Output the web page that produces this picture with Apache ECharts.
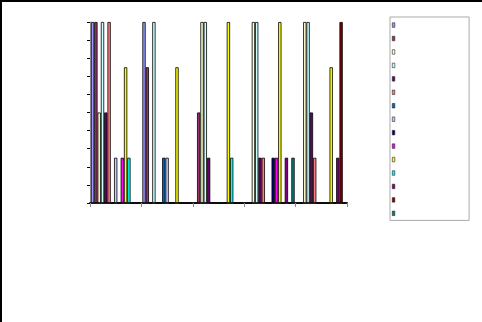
<!DOCTYPE html>
<html>
<head>
<meta charset="utf-8">
<style>html,body{margin:0;padding:0;background:#fff}#c{width:482px;height:322px}</style>
<script src="https://cdn.jsdelivr.net/npm/echarts@6/dist/echarts.min.js"></script>
</head>
<body>
<div id="c"></div>
<script>
var categories = ['1', '2', '3', '4', '5'];
var seriesNames = ['S1','S2','S3','S4','S5','S6','S7','S8','S9','S10','S11','S12','S13','S14','S15'];
var seriesColors = ['#9999FF','#993366','#FFFFCC','#CCFFFF','#660066','#FF8080','#0066CC','#CCCCFF','#000080','#FF00FF','#FFFF00','#00FFFF','#800080','#800000','#008080'];
var s1  = [10, 10, 0, 0, 0];
var s2  = [10, 7.5, 5, 0, 0];
var s3  = [5, 0, 10, 10, 10];
var s4  = [10, 10, 10, 10, 10];
var s5  = [5, 0, 2.5, 2.5, 5];
var s6  = [10, 0, 0, 2.5, 2.5];
var s7  = [0, 2.5, 0, 0, 0];
var s8  = [2.5, 2.5, 0, 0, 0];
var s9  = [0, 0, 0, 2.5, 0];
var s10 = [2.5, 0, 0, 2.5, 0];
var s11 = [7.5, 7.5, 10, 10, 7.5];
var s12 = [2.5, 0, 2.5, 0, 0];
var s13 = [0, 0, 0, 2.5, 2.5];
var s14 = [0, 0, 0, 0, 10];
var s15 = [0, 0, 0, 2.5, 0];
var allValues = [s1,s2,s3,s4,s5,s6,s7,s8,s9,s10,s11,s12,s13,s14,s15];

var series = allValues.map(function (vals, i) {
  return {
    name: seriesNames[i],
    type: 'bar',
    data: vals,
    barWidth: 3.3,
    barGap: '0%',
    itemStyle: { color: seriesColors[i], borderColor: '#000', borderWidth: 0.8 }
  };
});

var chart = echarts.init(document.getElementById('c'), null, { renderer: 'canvas' });
chart.setOption({
  animation: false,
  backgroundColor: '#fff',
  color: seriesColors,
  grid: { left: 90, right: 135, top: 22, bottom: 119, containLabel: false },
  legend: {
    orient: 'vertical',
    left: 390, top: 17,
    padding: [5.5, 74, 4.5, 2],
    itemWidth: 2.5, itemHeight: 4.5, itemGap: 8.35,
    icon: 'rect',
    formatter: function () { return ''; },
    textStyle: { fontSize: 1, padding: 0 },
    itemStyle: { borderColor: '#222', borderWidth: 0.6 },
    borderColor: '#aaa', borderWidth: 1,
    selectedMode: false,
    data: seriesNames
  },
  xAxis: {
    type: 'category',
    data: categories,
    axisLine: { lineStyle: { color: '#222', width: 2 } },
    axisTick: { show: true, length: 4, lineStyle: { color: '#888' } },
    axisLabel: { show: false },
    splitLine: { show: false }
  },
  yAxis: {
    type: 'value',
    min: 0, max: 10, interval: 1,
    axisLine: { show: true, lineStyle: { color: '#999' } },
    axisTick: { show: true, length: 3, lineStyle: { color: '#000' } },
    axisLabel: { show: false },
    splitLine: { show: false }
  },
  graphic: [
    { type: 'rect', left: 0, top: 0, shape: { width: 2, height: 322 }, style: { fill: '#000' } },
    { type: 'rect', left: 0, top: 0, shape: { width: 482, height: 2 }, style: { fill: '#000' } }
  ],
  series: series
});
</script>
</body>
</html>
